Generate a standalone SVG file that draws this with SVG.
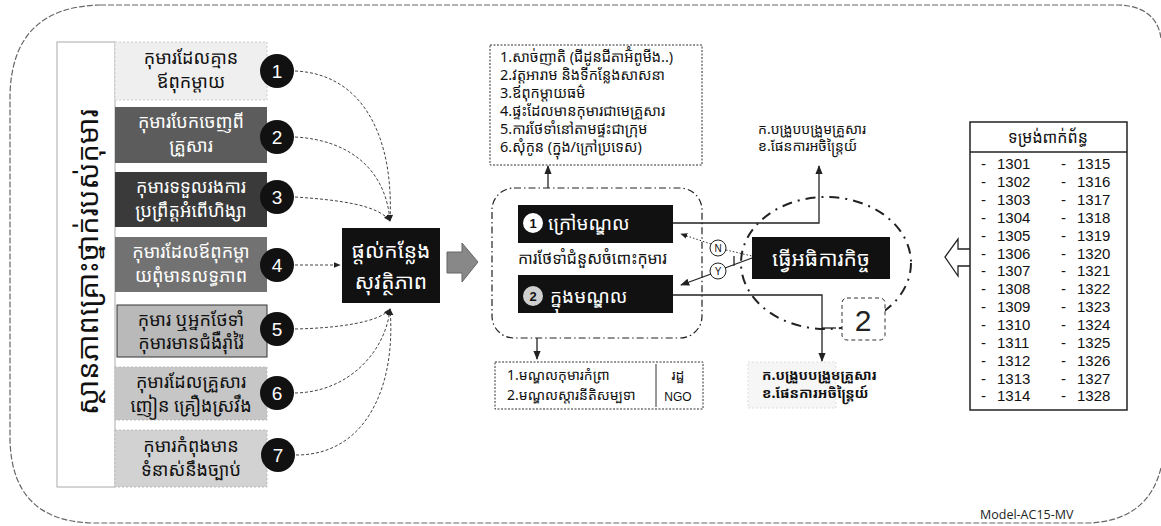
<svg xmlns="http://www.w3.org/2000/svg" width="1161" height="526" viewBox="0 0 1161 526">
<defs>
<style>
.km{font-family:'Noto Sans Khmer','Khmer OS','Noto Serif Khmer','Noto Sans',sans-serif}
.lat{font-family:'Liberation Sans','DejaVu Sans',sans-serif}
.ck{fill:#111}
.num{font-family:'Liberation Sans',sans-serif;font-size:19px;fill:#fff;text-anchor:middle;dominant-baseline:central}
.conn{fill:none;stroke:#444;stroke-width:1;stroke-dasharray:3 2}
.solid{fill:none;stroke:#222;stroke-width:1.3}
.dotbox{fill:#fff;stroke:#333;stroke-width:1;stroke-dasharray:2 1.5}
.blk{fill:#111}
</style>
<marker id="ah" viewBox="0 0 10 10" refX="9" refY="5" markerWidth="7" markerHeight="7" orient="auto">
<path d="M0,1 L10,5 L0,9 z" fill="#222"/>
</marker>
</defs>

<!-- outer border -->
<path d="M100,5 L1118,5 Q1156,6 1161,38 M1161,468 Q1148,520 1090,523 L92,523 Q12,521 10,440 L10,95 Q12,7 100,5" fill="none" stroke="#666" stroke-width="1.2" stroke-dasharray="6 2"/>

<!-- vertical title -->
<g id="title">
<rect x="57" y="42" width="58" height="445" fill="#fff" stroke="#aaa" stroke-width="1"/>
<text class="km" x="86" y="262" font-size="29" fill="#111" text-anchor="middle" dominant-baseline="central" transform="rotate(-90 86 262)">ស្ថានភាពគ្រោះថ្នាក់របស់កុមារ</text>
</g>

<!-- situation boxes -->
<g id="s1">
<rect x="115" y="42" width="152" height="58" fill="#efefef" stroke="#ccc" stroke-dasharray="2 2"/>
<text class="km" x="191" y="64" font-size="18" fill="#111" text-anchor="middle">កុមារដែលគ្មាន</text>
<text class="km" x="191" y="88" font-size="18" fill="#111" text-anchor="middle">ឪពុកម្តាយ</text>
<circle cx="277" cy="71" r="17" class="ck"/><text class="num" x="277" y="71">1</text>
</g>
<g id="s2">
<rect x="115" y="107" width="152" height="56" fill="#5c5c5c"/>
<text class="km" x="191" y="128" font-size="18" fill="#fff" text-anchor="middle">កុមារបែកចេញពី</text>
<text class="km" x="191" y="152" font-size="18" fill="#fff" text-anchor="middle">គ្រួសារ</text>
<circle cx="277" cy="137" r="17" class="ck"/><text class="num" x="277" y="137">2</text>
</g>
<g id="s3">
<rect x="115" y="172" width="152" height="55" fill="#3a3a3a"/>
<text class="km" x="191" y="193" font-size="18" fill="#fff" text-anchor="middle">កុមារទទួលរងការ</text>
<text class="km" x="191" y="217" font-size="18" fill="#fff" text-anchor="middle">ប្រព្រឹត្តអំពើហិង្សា</text>
<circle cx="277" cy="197" r="17" class="ck"/><text class="num" x="277" y="197">3</text>
</g>
<g id="s4">
<rect x="115" y="237" width="152" height="55" fill="#727272"/>
<text class="km" x="191" y="258" font-size="18" fill="#fff" text-anchor="middle">កុមារដែលឪពុកម្តា</text>
<text class="km" x="191" y="282" font-size="18" fill="#fff" text-anchor="middle">យពុំមានលទ្ធភាព</text>
<circle cx="277" cy="265" r="17" class="ck"/><text class="num" x="277" y="265">4</text>
</g>
<g id="s5">
<rect x="117" y="305" width="150" height="52" fill="#b9b9b9" stroke="#333" stroke-width="1"/>
<text class="km" x="191" y="326" font-size="18" fill="#111" text-anchor="middle">កុមារ ឬអ្នកថែទាំ</text>
<text class="km" x="191" y="349" font-size="18" fill="#111" text-anchor="middle">កុមារមានជំងឺរ៉ាំរ៉ៃ</text>
<circle cx="277" cy="329" r="17" class="ck"/><text class="num" x="277" y="329">5</text>
</g>
<g id="s6">
<rect x="115" y="367" width="152" height="53" fill="#c6c6c6" stroke="#bbb" stroke-dasharray="2 2"/>
<text class="km" x="191" y="388" font-size="18" fill="#111" text-anchor="middle">កុមារដែលគ្រួសារ</text>
<text class="km" x="191" y="412" font-size="18" fill="#111" text-anchor="middle">ញៀន គ្រឿងស្រវឹង</text>
<circle cx="277" cy="393" r="17" class="ck"/><text class="num" x="277" y="393">6</text>
</g>
<g id="s7">
<rect x="115" y="430" width="152" height="57" fill="#d2d2d2" stroke="#bbb" stroke-dasharray="2 2"/>
<text class="km" x="191" y="452" font-size="18" fill="#111" text-anchor="middle">កុមារកំពុងមាន</text>
<text class="km" x="191" y="476" font-size="18" fill="#111" text-anchor="middle">ទំនាស់នឹងច្បាប់</text>
<circle cx="278" cy="455" r="17" class="ck"/><text class="num" x="278" y="455">7</text>
</g>

<!-- safe place -->
<g id="safe">
<rect x="342" y="228" width="98" height="75" class="blk"/>
<text class="km" x="391" y="258" font-size="21" fill="#fff" text-anchor="middle">ផ្តល់កន្លែង</text>
<text class="km" x="391" y="289" font-size="21" fill="#fff" text-anchor="middle">សុវត្ថិភាព</text>
</g>
<g id="bigarrow">
<path d="M447,252 L462,252 L462,243 L478,262 L462,282 L462,273 L447,273 Z" fill="#888" stroke="#666" stroke-width="1"/>
</g>

<!-- alternative care group -->
<g id="care">
<rect x="492" y="188" width="210" height="150" rx="22" fill="none" stroke="#222" stroke-width="1.2" stroke-dasharray="7 3 1.5 3"/>
<rect x="518" y="205" width="155" height="38" class="blk"/>
<circle cx="533" cy="223" r="10" fill="#fff"/>
<text x="533" y="223" font-family="Liberation Sans,sans-serif" font-size="13" font-weight="bold" fill="#111" text-anchor="middle" dominant-baseline="central">1</text>
<text class="km" x="548" y="230" font-size="19" fill="#fff">ក្រៅមណ្ឌល</text>
<text class="km" x="518" y="264" font-size="16" fill="#111">ការថែទាំជំនួសចំពោះកុមារ</text>
<rect x="518" y="275" width="155" height="38" class="blk"/>
<circle cx="533" cy="296" r="10" fill="#cfcfcf"/>
<text x="533" y="296" font-family="Liberation Sans,sans-serif" font-size="13" font-weight="bold" fill="#111" text-anchor="middle" dominant-baseline="central">2</text>
<text class="km" x="550" y="303" font-size="19" fill="#fff">ក្នុងមណ្ឌល</text>
</g>

<!-- top list -->
<g id="toplist">
<rect x="490" y="45" width="212" height="120" class="dotbox"/>
<g class="km" font-size="14.5" fill="#111">
<text x="500" y="62">1.សាច់ញាតិ (ជីដូនជីតាអ៊ំពូមីង..)</text>
<text x="500" y="80">2.វត្តអារាម និងទីកន្លែងសាសនា</text>
<text x="500" y="98">3.ឪពុកម្តាយធម៌</text>
<text x="500" y="116">4.ផ្ទះដែលមានកុមារជាមេគ្រួសារ</text>
<text x="500" y="134">5.ការថែទាំនៅតាមផ្ទះជាក្រុម</text>
<text x="500" y="152">6.សុំកូន (ក្នុង/ក្រៅប្រទេស)</text>
</g>
</g>

<!-- bottom list -->
<g id="botlist">
<rect x="495" y="362" width="208" height="47" class="dotbox"/>
<line x1="656" y1="364" x2="656" y2="407" stroke="#333" stroke-width="1"/>
<g class="km" font-size="14" fill="#111">
<text x="507" y="380">1.មណ្ឌលកុមារកំព្រា</text>
<text x="507" y="400">2.មណ្ឌលស្តារនីតិសម្បទា</text>
<text x="678" y="380" text-anchor="middle">រដ្ឋ</text>
</g>
<text class="lat" x="678" y="401" font-size="12" fill="#111" text-anchor="middle">NGO</text>
</g>

<!-- inspection -->
<g id="inspect">
<ellipse cx="826" cy="263" rx="85" ry="66" fill="none" stroke="#222" stroke-width="2" stroke-dasharray="10 6 2 6"/>
<rect x="752" y="237" width="138" height="42" class="blk"/>
<text class="km" x="821" y="266" font-size="21" fill="#fff" text-anchor="middle">ធ្វើអធិការកិច្ច</text>
</g>
<g id="callout2">
<rect x="842" y="298" width="43" height="42" rx="5" fill="#fff" stroke="#333" stroke-width="1" stroke-dasharray="4 3"/>
<text class="lat" x="863" y="331" font-size="30" fill="#222" text-anchor="middle">2</text>
</g>
<g id="ny">
<circle cx="718" cy="248" r="8" fill="#fff" stroke="#222" stroke-width="1"/>
<text class="lat" x="718" y="248" font-size="10" fill="#111" text-anchor="middle" dominant-baseline="central">N</text>
<circle cx="718" cy="271" r="8" fill="#fff" stroke="#222" stroke-width="1"/>
<text class="lat" x="718" y="271" font-size="10" fill="#111" text-anchor="middle" dominant-baseline="central">Y</text>
</g>

<!-- outcome texts -->
<g id="out1">
<text class="km" x="758" y="134" font-size="14" fill="#111">ក.បង្រួបបង្រួមគ្រួសារ</text>
<text class="km" x="758" y="151" font-size="14" fill="#111">ខ.ផែនការអចិន្ត្រៃយ៍</text>
</g>
<g id="out2">
<rect x="748" y="362" width="88" height="46" fill="#f6f6f6" stroke="#ddd" stroke-dasharray="2 2"/>
<text class="km" x="762" y="380" font-size="14" fill="#111" font-weight="bold">ក.បង្រួបបង្រួមគ្រួសារ</text>
<text class="km" x="762" y="398" font-size="14" fill="#111" font-weight="bold">ខ.ផែនការអចិន្ត្រៃយ៍</text>
</g>

<!-- table -->
<g id="forms">
<path d="M970,249 L958,249 L958,239 L945,257 L958,276 L958,266 L970,266" fill="#fff" stroke="#222" stroke-width="1.3"/>
<rect x="970" y="122" width="157" height="288" fill="#fff" stroke="#222" stroke-width="1.5"/>
<line x1="970" y1="152" x2="1127" y2="152" stroke="#222" stroke-width="1.5"/>
<text class="km" x="1048" y="143" font-size="16" fill="#111" text-anchor="middle">ទម្រង់ពាក់ព័ន្ធ</text>
<g class="lat" font-size="15" fill="#111">
<text x="981" y="169">-</text><text x="997" y="169">1301</text><text x="1061" y="169">-</text><text x="1077" y="169">1315</text>
<text x="981" y="187">-</text><text x="997" y="187">1302</text><text x="1061" y="187">-</text><text x="1077" y="187">1316</text>
<text x="981" y="205">-</text><text x="997" y="205">1303</text><text x="1061" y="205">-</text><text x="1077" y="205">1317</text>
<text x="981" y="223">-</text><text x="997" y="223">1304</text><text x="1061" y="223">-</text><text x="1077" y="223">1318</text>
<text x="981" y="241">-</text><text x="997" y="241">1305</text><text x="1061" y="241">-</text><text x="1077" y="241">1319</text>
<text x="981" y="259">-</text><text x="997" y="259">1306</text><text x="1061" y="259">-</text><text x="1077" y="259">1320</text>
<text x="981" y="276">-</text><text x="997" y="276">1307</text><text x="1061" y="276">-</text><text x="1077" y="276">1321</text>
<text x="981" y="294">-</text><text x="997" y="294">1308</text><text x="1061" y="294">-</text><text x="1077" y="294">1322</text>
<text x="981" y="312">-</text><text x="997" y="312">1309</text><text x="1061" y="312">-</text><text x="1077" y="312">1323</text>
<text x="981" y="330">-</text><text x="997" y="330">1310</text><text x="1061" y="330">-</text><text x="1077" y="330">1324</text>
<text x="981" y="348">-</text><text x="997" y="348">1311</text><text x="1061" y="348">-</text><text x="1077" y="348">1325</text>
<text x="981" y="366">-</text><text x="997" y="366">1312</text><text x="1061" y="366">-</text><text x="1077" y="366">1326</text>
<text x="981" y="384">-</text><text x="997" y="384">1313</text><text x="1061" y="384">-</text><text x="1077" y="384">1327</text>
<text x="981" y="401">-</text><text x="997" y="401">1314</text><text x="1061" y="401">-</text><text x="1077" y="401">1328</text>
</g>
</g>

<text id="model" x="980" y="519" font-family="'Open Sans','Liberation Sans',sans-serif" font-size="12.5" fill="#222">Model-AC15-MV</text>

<!-- connectors -->
<g id="connectors">
<path class="conn" d="M295,71 C365,74 394,140 390,221" marker-end="url(#ah)"/>
<path class="conn" d="M295,137 C350,140 386,170 390,221" marker-end="url(#ah)"/>
<path class="conn" d="M295,197 C340,200 378,205 390,221" marker-end="url(#ah)"/>
<path class="conn" d="M295,265 L340,265" marker-end="url(#ah)"/>
<path class="conn" d="M295,329 C340,328 380,322 390,309" marker-end="url(#ah)"/>
<path class="conn" d="M295,393 C350,392 386,350 390,309" marker-end="url(#ah)"/>
<path class="conn" d="M296,455 C370,455 396,380 390,309" marker-end="url(#ah)"/>
<path class="solid" d="M548,188 L548,166" marker-end="url(#ah)"/>
<path class="solid" d="M537,338 L537,359" marker-end="url(#ah)"/>
<path class="solid" d="M673,223 L819,223 L819,166" marker-end="url(#ah)"/>
<path class="solid" d="M673,295 L822,295 L822,361" marker-end="url(#ah)"/>
<line x1="822" y1="328" x2="836" y2="328" stroke="#222" stroke-width="1.3"/>
<path d="M711,244 L681,234" fill="none" stroke="#333" stroke-width="1" stroke-dasharray="1.5 2" marker-end="url(#ah)"/>
<path class="solid" d="M711,274 L681,285" marker-end="url(#ah)"/>
<path d="M726,250 L752,256" fill="none" stroke="#333" stroke-width="1" stroke-dasharray="1.5 2"/>
<path class="solid" d="M725,268 L752,258 M734,256 L734,266"/>
</g>
</svg>
